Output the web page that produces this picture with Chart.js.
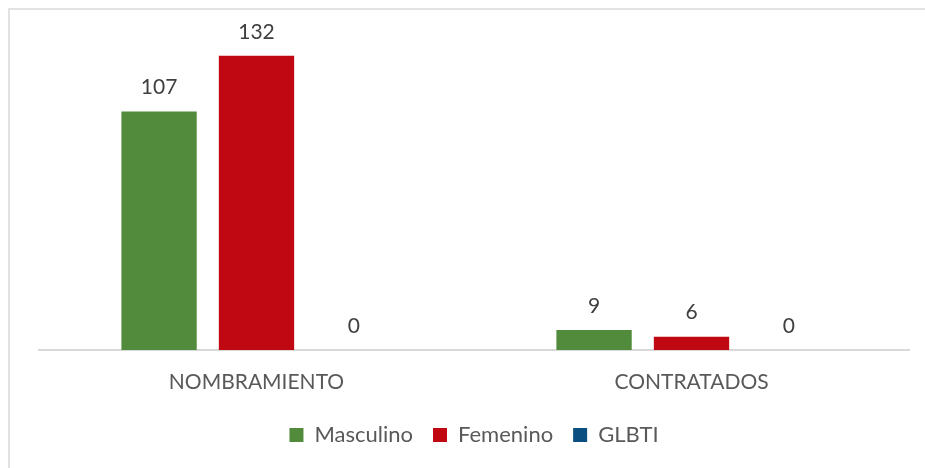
<!DOCTYPE html>
<html>
<head>
<meta charset="utf-8">
<script src="https://cdn.jsdelivr.net/npm/chart.js@4.4.1/dist/chart.umd.min.js"></script>
<style>
  html, body { margin: 0; padding: 0; background: #fff; }
  #wrapper { position: relative; width: 925px; height: 468px; overflow: hidden; }
  #frame {
    position: absolute; left: 8px; top: 8px; right: -5px; bottom: -5px;
    border-left: 2px solid #e2e2e2; border-top: 2px solid #e2e2e2;
  }
  canvas { position: absolute; left: 0; top: 0; }
</style>
</head>
<body>
<div id="wrapper">
  <div id="frame"></div>
  <canvas id="myChart" width="925" height="468"></canvas>
</div>
<script>
// data
const categories = ["NOMBRAMIENTO", "CONTRATADOS"];
const seriesNames = ["Masculino", "Femenino", "GLBTI"];
const masculino = [107, 9];
const femenino = [132, 6];
const glbti = [0, 0];
const colors = ["#518b3b", "#c00813", "#0b4f80"];

const FONT = "Lato";

// value labels above the bars
const valueLabels = {
  id: "valueLabels",
  afterDatasetsDraw(chart) {
    const ctx = chart.ctx;
    ctx.save();
    ctx.font = `21px ${FONT}`;
    ctx.fillStyle = "#404040";
    ctx.textAlign = "center";
    ctx.textBaseline = "middle";
    chart.data.datasets.forEach((ds, i) => {
      chart.getDatasetMeta(i).data.forEach((bar, j) => {
        ctx.fillText(ds.data[j], bar.x, bar.y - 24);
      });
    });
    ctx.restore();
  },
};

const data = {
  labels: categories,
  datasets: [masculino, femenino, glbti].map((vals, i) => ({
    label: seriesNames[i],
    data: vals,
    backgroundColor: colors[i],
    borderWidth: 0,
    categoryPercentage: 0.672,
    barPercentage: 0.773,
  })),
};

const options = {
  responsive: false,
  animation: false,
  layout: {
    padding: { left: 39, right: 16, top: 38, bottom: 12 },
  },
  plugins: {
    tooltip: { enabled: false },
    legend: {
      position: "bottom",
      labels: {
        boxWidth: 14,
        boxHeight: 14,
        padding: 20,
        color: "#595959",
        font: { family: FONT, size: 22 },
      },
    },
  },
  scales: {
    y: {
      display: false,
      min: 0,
      max: 140,
    },
    x: {
      grid: { display: false, drawTicks: false },
      border: { color: "#d9d9d9", width: 2 },
      ticks: {
        color: "#595959",
        padding: 20,
        font: { family: FONT, size: 21 },
      },
      afterFit: (scale) => {
        scale.height = 54;
      },
    },
  },
};

const ctx = document.getElementById("myChart").getContext("2d");
let myChart = new Chart(ctx, {
  type: "bar",
  data,
  options,
  plugins: [valueLabels],
});
</script>
</body>
</html>
